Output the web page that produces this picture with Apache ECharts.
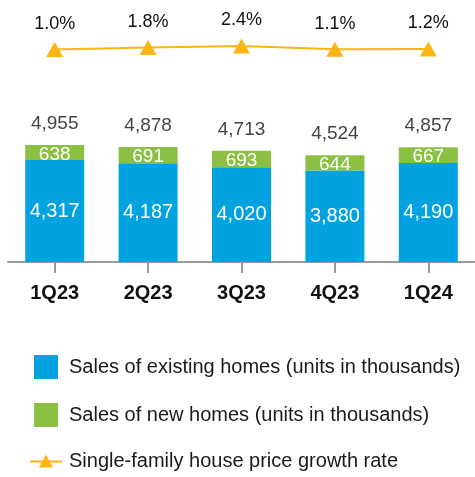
<!DOCTYPE html>
<html>
<head>
<meta charset="utf-8">
<script src="https://cdn.jsdelivr.net/npm/echarts@6/dist/echarts.min.js"></script>
<style>
  html, body { margin: 0; padding: 0; background: #fff; }
  #chart { width: 475px; height: 477px; }
</style>
</head>
<body>
<div id="chart"></div>
<script>
const quarters = ['1Q23', '2Q23', '3Q23', '4Q23', '1Q24']
const existingHomes = [4317, 4187, 4020, 3880, 4190]
const newHomes = [638, 691, 693, 644, 667]
const totalSales = [4955, 4878, 4713, 4524, 4857]
const priceGrowth = [1.0, 1.8, 2.4, 1.1, 1.2]

const chart = echarts.init(document.getElementById('chart'))
const font = 'Liberation Sans, Arial, sans-serif'
const fmt = v => v.toLocaleString('en-US')
const blue = '#00a3df'
const green = '#8cc043'
const orange = '#fdb515'

chart.setOption({
  animation: false,
  textStyle: { fontFamily: font },
  grid: { left: 8, width: 470, top: 26, bottom: 215 },
  legend: {
    orient: 'vertical',
    left: 25,
    top: 350,
    itemWidth: 32,
    itemHeight: 24,
    itemGap: 24,
    textStyle: { fontSize: 20, color: '#1a1a1a', fontFamily: font, padding: [0, 0, 0, 2] },
    data: [
      { name: 'Sales of existing homes (units in thousands)', icon: 'path://M0 0H10V10H0Z' },
      { name: 'Sales of new homes (units in thousands)', icon: 'path://M0 0H10V10H0Z' },
      // line + triangle legend icon
      { name: 'Single-family house price growth rate', icon: 'path://M0 7H32V9H0Z M9 14L16 1L23 14Z' }
    ]
  },
  xAxis: {
    type: 'category',
    data: quarters,
    axisLine: { show: true, lineStyle: { color: '#9a9a9a', width: 2 } },
    axisTick: { show: true, alignWithLabel: true, length: 11, lineStyle: { color: '#9a9a9a', width: 2 } },
    axisLabel: { margin: 21, fontSize: 20, fontWeight: 'bold', color: '#111' }
  },
  yAxis: [
    { type: 'value', min: 0, max: 10000, show: false },
    { type: 'value', min: -84, max: 10.4, show: false }
  ],
  series: [
    {
      name: 'Sales of existing homes (units in thousands)',
      type: 'bar',
      stack: 'sales',
      barWidth: 59,
      itemStyle: { color: blue },
      data: existingHomes,
      label: { show: true, position: 'inside', color: '#fff', fontSize: 20, formatter: p => fmt(p.value) }
    },
    {
      name: 'Sales of new homes (units in thousands)',
      type: 'bar',
      stack: 'sales',
      barWidth: 59,
      itemStyle: { color: green },
      data: newHomes,
      label: { show: true, position: 'inside', offset: [0, 2], color: '#fff', fontSize: 19, formatter: p => fmt(p.value) }
    },
    {
      // totals above the bars
      name: 'total',
      type: 'scatter',
      symbolSize: 0,
      data: totalSales,
      label: { show: true, position: 'top', distance: 12, color: '#111', fontSize: 19, formatter: p => fmt(p.value) }
    },
    {
      name: 'Single-family house price growth rate',
      type: 'line',
      yAxisIndex: 1,
      data: priceGrowth,
      symbol: 'triangle',
      symbolSize: [17, 15],
      itemStyle: { color: orange },
      lineStyle: { width: 2, color: orange },
      label: { show: true, position: 'top', distance: 9, color: '#111', fontSize: 18, formatter: p => p.value.toFixed(1) + '%' }
    }
  ]
})
window.addEventListener('resize', () => chart.resize())
</script>
</body>
</html>
